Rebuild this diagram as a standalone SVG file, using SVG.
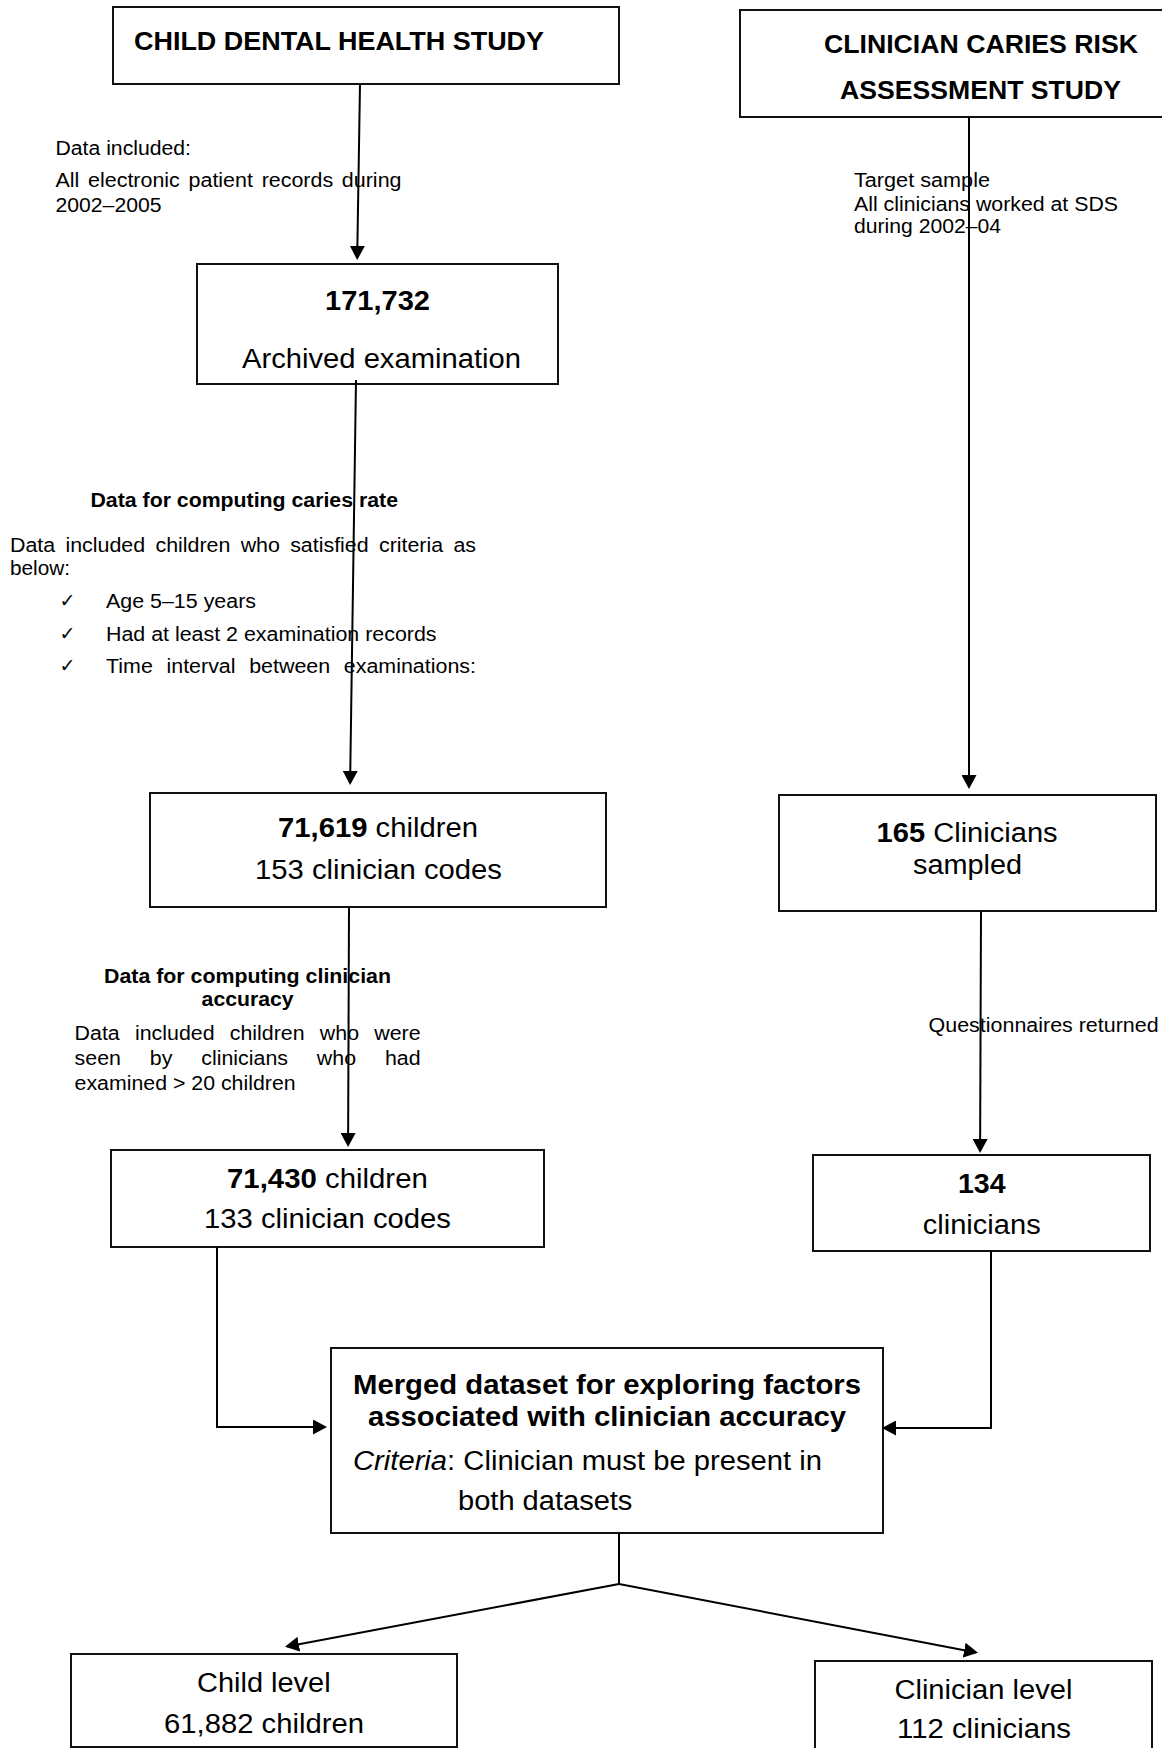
<svg xmlns="http://www.w3.org/2000/svg" width="1162" height="1748" viewBox="0 0 1162 1748">
<defs>
<style>
.box{fill:#fff;stroke:#111;stroke-width:2}
.con{fill:none;stroke:#000;stroke-width:2}
text{font-family:"Liberation Sans",Arial,Helvetica,sans-serif;fill:#000}
.hd{font-weight:bold;font-size:26px}
.big{font-size:27px}
.nt{font-size:19.5px}
.b{font-weight:bold}
.ck{font-family:"DejaVu Sans",sans-serif;font-size:19px}
</style>
<marker id="ah" viewBox="0 0 14 15" markerWidth="14" markerHeight="15" refX="12" refY="7.5" orient="auto" markerUnits="userSpaceOnUse">
<path d="M0,0 L14,7.5 L0,15 z" fill="#000"/>
</marker>
</defs>
<rect width="1162" height="1748" fill="#fff"/>

<g id="note-data-included">
<text class="nt" x="55.5" y="155" textLength="135.5" lengthAdjust="spacingAndGlyphs">Data included:</text>
<text class="nt" x="55.5" y="187" textLength="346" lengthAdjust="spacingAndGlyphs" word-spacing="2.5">All electronic patient records during</text>
<text class="nt" x="55.5" y="212" textLength="106" lengthAdjust="spacingAndGlyphs">2002–2005</text>
</g>

<g id="note-target">
<text class="nt" x="854" y="187" textLength="136" lengthAdjust="spacingAndGlyphs">Target sample</text>
<text class="nt" x="854" y="210.5" textLength="264" lengthAdjust="spacingAndGlyphs">All clinicians worked at SDS</text>
<text class="nt" x="854" y="233" textLength="147" lengthAdjust="spacingAndGlyphs">during 2002–04</text>
</g>

<g id="note-caries">
<text class="nt b" x="90.5" y="506.5" textLength="307.5" lengthAdjust="spacingAndGlyphs">Data for computing caries rate</text>
<text class="nt" x="10" y="551.5" textLength="466" lengthAdjust="spacingAndGlyphs" word-spacing="4">Data included children who satisfied criteria as</text>
<text class="nt" x="10" y="575" textLength="60" lengthAdjust="spacingAndGlyphs">below:</text>
<text class="ck" x="59.5" y="607">✓</text>
<text class="ck" x="59.5" y="639.5">✓</text>
<text class="ck" x="59.5" y="672">✓</text>
<text class="nt" x="106" y="608" textLength="150" lengthAdjust="spacingAndGlyphs">Age 5–15 years</text>
<text class="nt" x="106" y="640.5" textLength="330.5" lengthAdjust="spacingAndGlyphs">Had at least 2 examination records</text>
<text class="nt" x="106" y="673" textLength="370" lengthAdjust="spacingAndGlyphs" word-spacing="7">Time interval between examinations:</text>
</g>

<g id="note-accuracy">
<text class="nt b" x="104" y="983" textLength="287" lengthAdjust="spacingAndGlyphs">Data for computing clinician</text>
<text class="nt b" x="201.6" y="1005.5" textLength="92" lengthAdjust="spacingAndGlyphs">accuracy</text>
<text class="nt" x="74.6" y="1040" textLength="346" lengthAdjust="spacingAndGlyphs" word-spacing="8.5">Data included children who were</text>
<text class="nt" x="74.6" y="1065" textLength="346" lengthAdjust="spacingAndGlyphs" word-spacing="21">seen by clinicians who had</text>
<text class="nt" x="74.6" y="1089.5" textLength="221" lengthAdjust="spacingAndGlyphs">examined &gt; 20 children</text>
</g>

<g id="note-questionnaires">
<text class="nt" x="928.6" y="1032" textLength="230" lengthAdjust="spacingAndGlyphs">Questionnaires returned</text>
</g>

<g id="node-child-study">
<rect class="box" x="113" y="7" width="506" height="77"/>
<text class="hd" x="134" y="50" textLength="410" lengthAdjust="spacingAndGlyphs">CHILD DENTAL HEALTH STUDY</text>
</g>

<g id="node-clinician-study">
<rect class="box" x="740" y="10" width="440" height="107"/>
<text class="hd" x="824" y="53" textLength="314" lengthAdjust="spacingAndGlyphs">CLINICIAN CARIES RISK</text>
<text class="hd" x="840" y="99" textLength="281" lengthAdjust="spacingAndGlyphs">ASSESSMENT STUDY</text>
</g>

<g id="node-archived">
<rect class="box" x="197" y="264" width="361" height="120"/>
<text class="big b" x="325" y="310" textLength="105" lengthAdjust="spacingAndGlyphs">171,732</text>
<text class="big" x="242" y="368" textLength="279" lengthAdjust="spacingAndGlyphs">Archived examination</text>
</g>

<g id="node-71619">
<rect class="box" x="150" y="793" width="456" height="114"/>
<text class="big" x="278" y="837" textLength="200" lengthAdjust="spacingAndGlyphs"><tspan class="b">71,619</tspan> children</text>
<text class="big" x="255" y="879" textLength="247" lengthAdjust="spacingAndGlyphs">153 clinician codes</text>
</g>

<g id="node-165">
<rect class="box" x="779" y="795" width="377" height="116"/>
<text class="big" x="876.6" y="841.5" textLength="181" lengthAdjust="spacingAndGlyphs"><tspan class="b">165</tspan> Clinicians</text>
<text class="big" x="913" y="873.5" textLength="109" lengthAdjust="spacingAndGlyphs">sampled</text>
</g>

<g id="node-71430">
<rect class="box" x="111" y="1150" width="433" height="97"/>
<text class="big" x="227" y="1188" textLength="200.8" lengthAdjust="spacingAndGlyphs"><tspan class="b">71,430</tspan> children</text>
<text class="big" x="204" y="1228" textLength="247" lengthAdjust="spacingAndGlyphs">133 clinician codes</text>
</g>

<g id="node-134">
<rect class="box" x="813" y="1155" width="337" height="96"/>
<text class="big b" x="958" y="1193" textLength="47.6" lengthAdjust="spacingAndGlyphs">134</text>
<text class="big" x="922.7" y="1234" textLength="118" lengthAdjust="spacingAndGlyphs">clinicians</text>
</g>

<g id="node-merged">
<rect class="box" x="331" y="1348" width="552" height="185"/>
<text class="big b" x="353" y="1394" textLength="508" lengthAdjust="spacingAndGlyphs">Merged dataset for exploring factors</text>
<text class="big b" x="368" y="1426" textLength="478" lengthAdjust="spacingAndGlyphs">associated with clinician accuracy</text>
<text class="big" x="353" y="1470" textLength="469" lengthAdjust="spacingAndGlyphs"><tspan font-style="italic">Criteria</tspan>: Clinician must be present in</text>
<text class="big" x="458" y="1510" textLength="174.4" lengthAdjust="spacingAndGlyphs">both datasets</text>
</g>

<g id="node-child-level">
<rect class="box" x="71" y="1654" width="386" height="93"/>
<text class="big" x="197" y="1691.5" textLength="133.6" lengthAdjust="spacingAndGlyphs">Child level</text>
<text class="big" x="164" y="1732.5" textLength="200" lengthAdjust="spacingAndGlyphs">61,882 children</text>
</g>

<g id="node-clinician-level">
<rect class="box" x="815" y="1661" width="337" height="92"/>
<text class="big" x="894.4" y="1699" textLength="178" lengthAdjust="spacingAndGlyphs">Clinician level</text>
<text class="big" x="897" y="1738" textLength="174" lengthAdjust="spacingAndGlyphs">112 clinicians</text>
</g>

<g id="connectors">
<path class="con" d="M360,84 L357.2,258" marker-end="url(#ah)"/>
<path class="con" d="M356,380 L350.1,783" marker-end="url(#ah)"/>
<path class="con" d="M969,117 L969,787" marker-end="url(#ah)"/>
<path class="con" d="M349,907 L348.1,1145" marker-end="url(#ah)"/>
<path class="con" d="M981,911 L980.1,1151" marker-end="url(#ah)"/>
<path class="con" d="M217,1247 L217,1427 L325,1427" marker-end="url(#ah)"/>
<path class="con" d="M991,1251 L991,1428 L884,1428" marker-end="url(#ah)"/>
<path class="con" d="M619,1533 L619,1584"/>
<path class="con" d="M619,1584 L287,1646.4" marker-end="url(#ah)"/>
<path class="con" d="M619,1584 L976,1652.4" marker-end="url(#ah)"/>
</g>
</svg>
